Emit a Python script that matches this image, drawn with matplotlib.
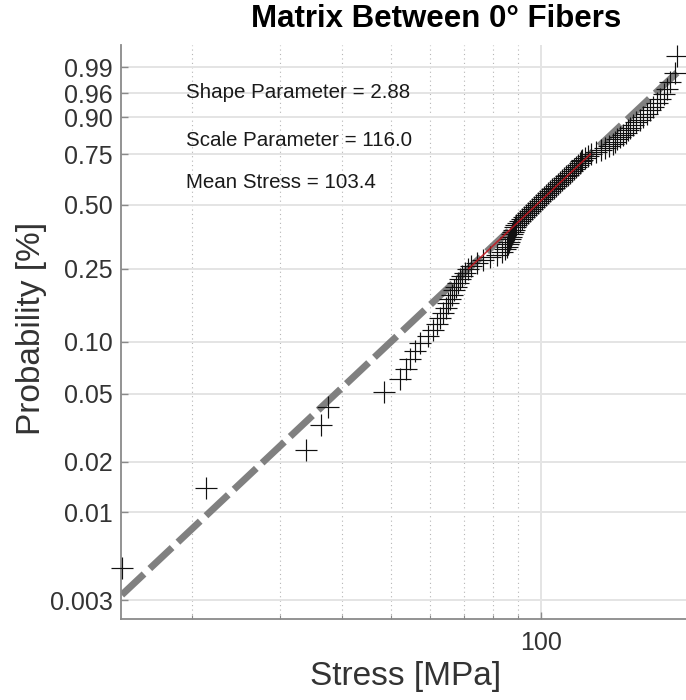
import numpy as np
import matplotlib
matplotlib.use("Agg")
import matplotlib.pyplot as plt
from matplotlib.ticker import FixedLocator, NullFormatter, FixedFormatter, NullLocator

plt.rcParams['font.family'] = ['Liberation Sans', 'DejaVu Sans']

# ---- data (sorted stress values, MPa) ----
stress = [14.5, 21.4, 33.9, 36.3, 37.5, 48.5, 52.2, 53.7, 54.7, 56.0,
          57.3, 59.4, 60.8, 61.9, 62.8, 63.7, 64.6, 65.2, 65.8, 66.4,
          67.0, 67.6, 68.2, 68.9, 69.5, 70.5, 71.4, 72.6, 74.5, 76.6,
          79.1, 81.7, 83.6, 84.7, 85.5, 85.9, 86.3, 86.7, 87.1, 87.5,
          87.9, 88.3, 88.7, 89.1, 90.0, 90.8, 91.6, 92.5, 93.3, 94.2,
          95.1, 95.9, 96.8, 97.7, 98.6, 99.5, 100.5, 101.4, 102.3, 103.3,
          104.2, 105.2, 106.2, 107.2, 108.1, 109.1, 110.2, 111.2, 112.2, 113.2,
          114.3, 115.3, 116.4, 117.5, 118.6, 119.7, 120.5, 121.0, 122.5, 124.2,
          125.9, 128.8, 131.8, 134.3, 137.0, 139.3, 140.6, 141.9, 143.9, 145.9,
          147.9, 149.3, 150.7, 152.8, 154.9, 157.8, 160.0, 162.9, 165.2, 167.5,
          170.6, 173.0, 176.2, 178.7, 181.1, 185.4, 187.1]
prob_ticks = [0.003, 0.01, 0.02, 0.05, 0.10, 0.25, 0.50, 0.75, 0.90, 0.96, 0.99]
prob_labels = ['0.003', '0.01', '0.02', '0.05', '0.10', '0.25', '0.50', '0.75', '0.90', '0.96', '0.99']
x_ticks = [100]
x_labels = ['100']
x_minor = [20, 30, 40, 50, 60, 70, 80, 90]
annotations = ["Shape Parameter = 2.88", "Scale Parameter = 116.0", "Mean Stress = 103.4"]
title = "Matrix Between 0° Fibers"
xlabel = "Stress [MPa]"
ylabel = "Probability [%]"

x = np.array(stress)
n = len(x)
p = (np.arange(1, n + 1) - 0.5) / n


def fwd(q):
    q = np.clip(q, 1e-12, 1 - 1e-12)
    return np.log(-np.log1p(-q))


def inv(g):
    return -np.expm1(-np.exp(g))


fig = plt.figure(figsize=(6.86, 7.0), dpi=100)
ax = fig.add_axes([121 / 686, 81 / 700, 565 / 686, 574 / 700])
ax.set_xscale('log')
ax.set_yscale('function', functions=(fwd, inv))

# reference line through quartiles (wblplot style)
q1, q3 = np.percentile(x, [25, 75], method='hazen')
slope = (fwd(0.75) - fwd(0.25)) / (np.log(q3) - np.log(q1))
xs_full = np.geomspace(x.min(), x.max(), 300)
ys_full = inv(fwd(0.25) + slope * (np.log(xs_full) - np.log(q1)))
xs_mid = np.geomspace(q1, q3, 100)
ys_mid = inv(fwd(0.25) + slope * (np.log(xs_mid) - np.log(q1)))

ax.plot(xs_full, ys_full, color='#808080', lw=5,
        linestyle=(0, (4.4, 1.15)), zorder=2, solid_capstyle='butt')
ax.plot(x, p, linestyle='none', marker='+', ms=15.5, mew=0.85, color='#111111',
        zorder=4, clip_on=False)
ax.plot(xs_mid, ys_mid, color='#c0141c', lw=1.2, zorder=5, alpha=0.85)

ax.set_xlim(14.45, 195)
ax.set_ylim(0.002312, 0.99804)

ax.yaxis.set_major_locator(FixedLocator(prob_ticks))
ax.yaxis.set_major_formatter(FixedFormatter(prob_labels))
ax.yaxis.set_minor_locator(NullLocator())
ax.xaxis.set_major_locator(FixedLocator(x_ticks))
ax.xaxis.set_major_formatter(FixedFormatter(x_labels))
ax.xaxis.set_minor_locator(FixedLocator(x_minor))
ax.xaxis.set_minor_formatter(NullFormatter())

ax.grid(True, which='major', axis='both', color='#e4e4e4', lw=1.4, ls='-', zorder=0)
ax.grid(True, which='minor', axis='x', color='#b5b5b5', lw=0.8, ls=(0, (1, 3)), zorder=0)
ax.set_axisbelow(True)

for s in ['top', 'right']:
    ax.spines[s].set_visible(False)
for s in ['left', 'bottom']:
    ax.spines[s].set_color('#8a8a8a')
    ax.spines[s].set_linewidth(1.3)

ax.tick_params(axis='both', which='major', direction='in', length=5, width=1,
               color='#8a8a8a', labelsize=18, labelcolor='#333333', pad=6)
ax.tick_params(axis='x', which='minor', direction='in', length=3, width=0.8, color='#8a8a8a')
ax.tick_params(axis='x', which='major', pad=9)

ax.set_xlabel(xlabel, fontsize=24, color='#333333')
ax.xaxis.set_label_coords((406 - 121) / 565, (619 - 676) / 574)
ax.xaxis.label.set_verticalalignment('center')
ax.set_ylabel(ylabel, fontsize=24, color='#333333')
ax.yaxis.set_label_coords((31 - 121) / 565, (619 - 328) / 574)
ax.yaxis.label.set_verticalalignment('center')

fig.text(436 / 686, 1 - 19 / 700, title, fontsize=22.5, fontweight='bold',
         ha='center', va='center', color='black')

for t, yy in zip(annotations, [93, 140, 183]):
    ax.text((186 - 121) / 565, (619 - yy) / 574, t, transform=ax.transAxes,
            fontsize=14.8, ha='left', va='center', color='#1a1a1a')

fig.savefig('out.png', dpi=100)
